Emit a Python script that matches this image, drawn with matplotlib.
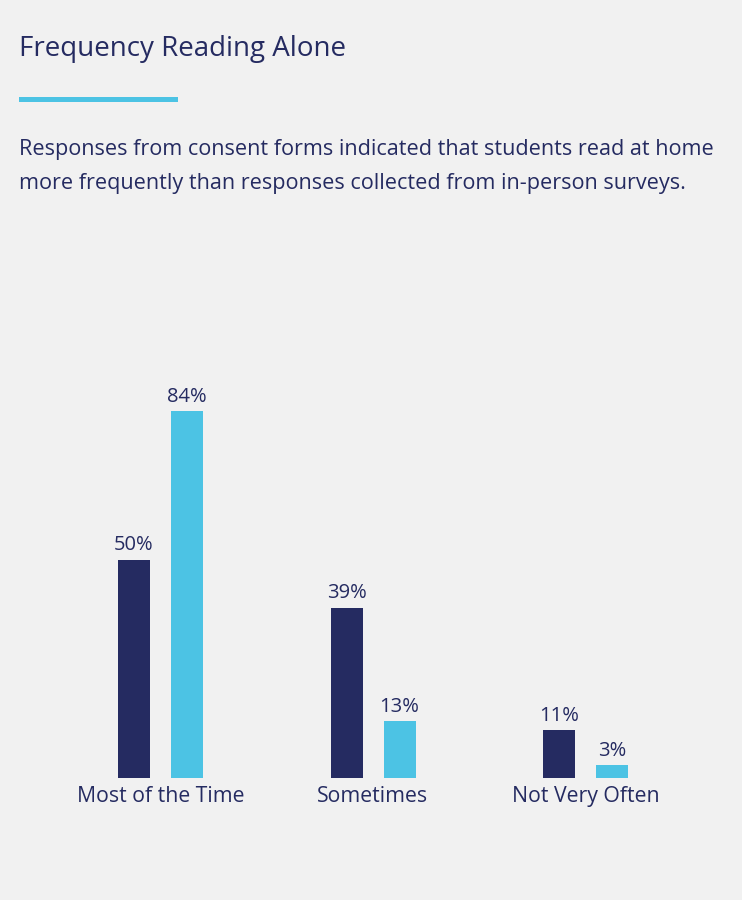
import numpy as np
import matplotlib
matplotlib.use("Agg")
import matplotlib.pyplot as plt
from matplotlib.patches import Rectangle

categories = ["Most of the Time", "Sometimes", "Not Very Often"]
consent_forms = [50, 39, 11]
in_person = [84, 13, 3]

navy = "#252b61"
cyan = "#4cc3e4"
bg = "#f1f1f1"

plt.rcParams['font.family'] = ['Open Sans', 'DejaVu Sans']

fig = plt.figure(figsize=(7.42, 9), dpi=100, facecolor=bg)
W, H = 742, 900

# title, accent line and subtitle
fig.text(19 / W, 1 - 49 / H, "Frequency Reading Alone", fontsize=20, color=navy,
         va="center", ha="left")
fig.add_artist(Rectangle((19 / W, 1 - 102 / H), 159 / W, 5 / H, transform=fig.transFigure,
                         facecolor=cyan, edgecolor="none"))
fig.text(19 / W, 1 - 149 / H, "Responses from consent forms indicated that students read at home",
         fontsize=15.6, color=navy, va="center", ha="left")
fig.text(19 / W, 1 - 184 / H, "more frequently than responses collected from in-person surveys.",
         fontsize=15.6, color=navy, va="center", ha="left")

# bar axes: group spacing 212.5 px, first group centre at x=160.5 px
ax = fig.add_axes([0, 122 / H, 1, 437 / H])
ax.set_facecolor(bg)
x = np.arange(len(categories))
bw = 32 / 212.5
off = 26.5 / 212.5
b1 = ax.bar(x - off, consent_forms, bw, color=navy)
b2 = ax.bar(x + off, in_person, bw, color=cyan)
for bars, vals in [(b1, consent_forms), (b2, in_person)]:
    for b, v in zip(bars, vals):
        ax.annotate(f"{v}%", (b.get_x() + b.get_width() / 2, v), xytext=(0, 3),
                    textcoords="offset points", ha="center", va="bottom",
                    fontsize=14.5, color=navy)

ax.set_xlim(-160.5 / 212.5, (W - 160.5) / 212.5)
ax.set_ylim(0, 100)
ax.set_xticks(x)
ax.set_xticklabels(categories, fontsize=15.3, color=navy)
ax.tick_params(axis="x", length=0, pad=6)
ax.set_yticks([])
for s in ax.spines.values():
    s.set_visible(False)

fig.savefig("out.png", dpi=100, facecolor=bg)
